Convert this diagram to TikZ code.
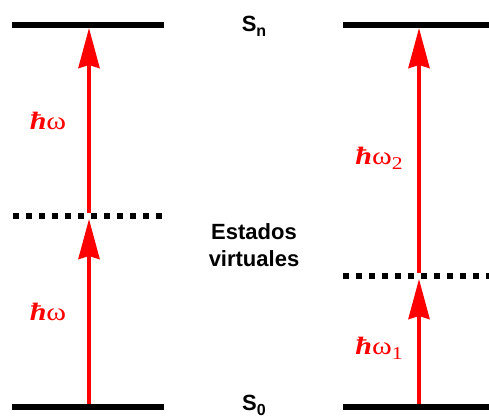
\documentclass[tikz,border=0pt]{standalone}
\usepackage{fontspec}
\setmainfont{Liberation Sans}
\newfontfamily\timesfont{Liberation Serif}
\usepackage{tikz}
\usetikzlibrary{arrows.meta,positioning}
\definecolor{phred}{RGB}{255,0,0}
\newcommand{\lowsub}[2]{\raisebox{-5pt}{\fontsize{#1}{#1}\selectfont #2}}
\newcommand{\hbarom}[1]{\scalebox{1.2}[1]{{\bfseries\itshape ħ}ω#1}}

\begin{document}
\begin{tikzpicture}[x=1pt, y=1pt,
    level/.style={line width=6pt, black},
    virt/.style={line width=6pt, black, dash pattern=on 6pt off 7pt},
    photon/.style={-{Stealth[length=40pt, width=21pt, inset=3pt]}, line width=4pt, phred},
    lbl/.style={font=\fontsize{22}{27}\selectfont\bfseries, align=center, inner sep=0pt},
    enlbl/.style={font=\timesfont\fontsize{25}{26}\selectfont, text=phred, inner sep=0pt, anchor=base}
]
    \useasboundingbox (0,0) rectangle (489,417);

    % Left: degenerate two-photon absorption
    \coordinate (l0) at (89,10);
    \coordinate (lv) at (89,201);
    \coordinate (ln) at (89,392);
    \draw[photon] (l0) -- ([yshift=-3pt]lv);
    \draw[photon] ([yshift=3pt]lv) -- ([yshift=-3pt]ln);
    \draw[level] (12,10) -- (164,10);
    \draw[level] (12,392) -- (164,392);
    \draw[virt] (13,201) -- (168,201);

    % Right: non-degenerate two-photon absorption
    \coordinate (r0) at (419,10);
    \coordinate (rv) at (419,141);
    \coordinate (rn) at (419,392);
    \draw[photon] (r0) -- ([yshift=-3pt]rv);
    \draw[photon] ([yshift=3pt]rv) -- ([yshift=-3pt]rn);
    \draw[level] (343,10) -- (489,10);
    \draw[level] (343,392) -- (489,392);
    \draw[virt] (343,141) -- (492,141);

    % Labels
    \node[lbl, anchor=base] (sn) at (254,385) {S\lowsub{16}{n}};
    \node[lbl, anchor=base] (s0) at (254,7) {S\lowsub{16}{0}};
    \node[lbl] (virtual) at (254,172) {Estados\\virtuales};

    \node[enlbl] (w1) at (48,287) {\hbarom{}};
    \node[enlbl] (w2) at (48,96) {\hbarom{}};
    \node[enlbl] (w3) at (379,252) {\hbarom{\lowsub{18}{2}}};
    \node[enlbl] (w4) at (379,62) {\hbarom{\lowsub{18}{1}}};
\end{tikzpicture}
\end{document}
